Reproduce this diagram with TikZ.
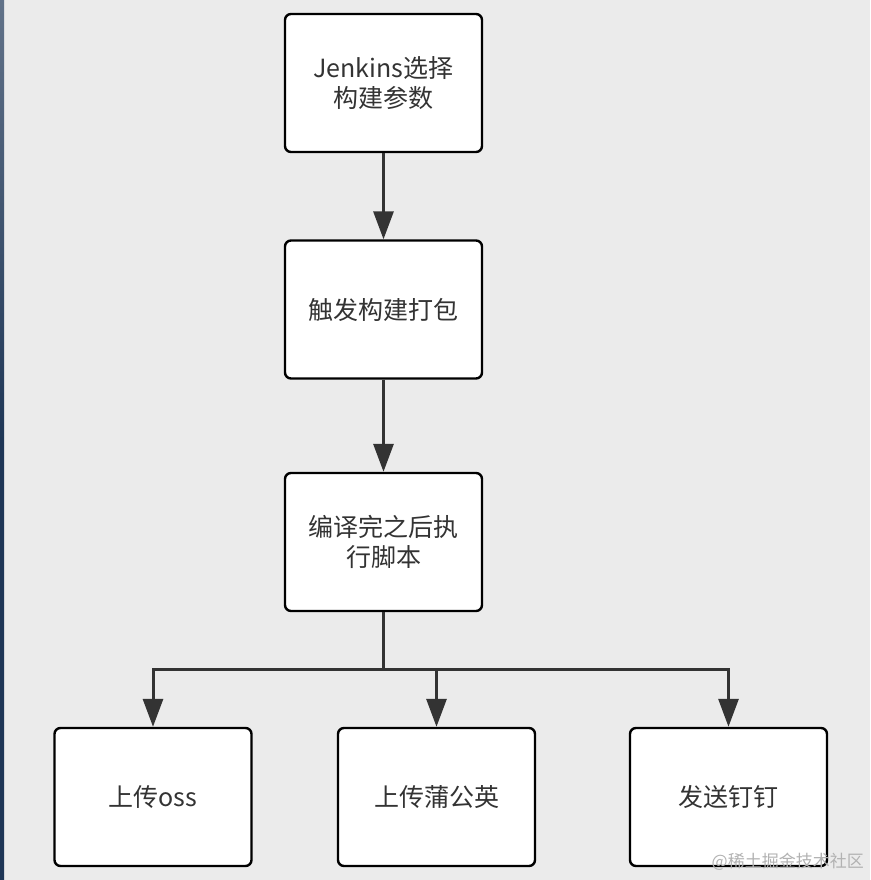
\documentclass[tikz,border=0pt]{standalone}
\usepackage{fontspec}
\newfontfamily\cjk{Noto Sans CJK SC}
\usetikzlibrary{arrows.meta}
\definecolor{bg}{HTML}{EBEBEB}
\definecolor{ink}{HTML}{333333}
\definecolor{strip}{HTML}{1E3656}
\tikzset{
  x=1pt,y=-1pt,
  box/.style={draw=black,line width=2.4pt,fill=white,rounded corners=6pt,
    minimum width=197pt,minimum height=138pt,align=center,text=ink,
    font=\cjk\fontsize{25}{30}\selectfont,inner sep=0pt},
  conn/.style={draw=ink,line width=3pt,-{Triangle[length=28pt,width=20pt]}},
  line/.style={draw=ink,line width=3pt}
}
\begin{document}
\begin{tikzpicture}
\fill[bg] (0,0) rectangle (870,880);
\useasboundingbox (0,0) rectangle (870,880);
\fill[top color=strip!70!white,bottom color=strip,middle color=strip] (0,0) rectangle (4,880);
\node[box] (b1) at (383.5,83) {Jenkins选择\\构建参数};
\node[box] (b2) at (383.5,309.5) {触发构建打包};
\node[box] (b3) at (383.5,542) {编译完之后执\\行脚本};
\node[box] (b4) at (153,797) {上传oss};
\node[box] (b5) at (436.5,797) {上传蒲公英};
\node[box] (b6) at (728.5,797) {发送钉钉};
\coordinate (j) at (383.5,669);
\draw[conn] (b1) -- (b2);
\draw[conn] (b2) -- (b3);
\draw[line] (b3.south) -- (j);
\draw[conn] (j) -| (b4.north);
\draw[conn] (j) -| (b5.north);
\draw[conn] (j) -| (b6.north);
\node[text=gray!60,font=\cjk\fontsize{17}{20}\selectfont,anchor=east,inner sep=0pt] (wm) at (864,862) {@稀土掘金技术社区};
\end{tikzpicture}
\end{document}
